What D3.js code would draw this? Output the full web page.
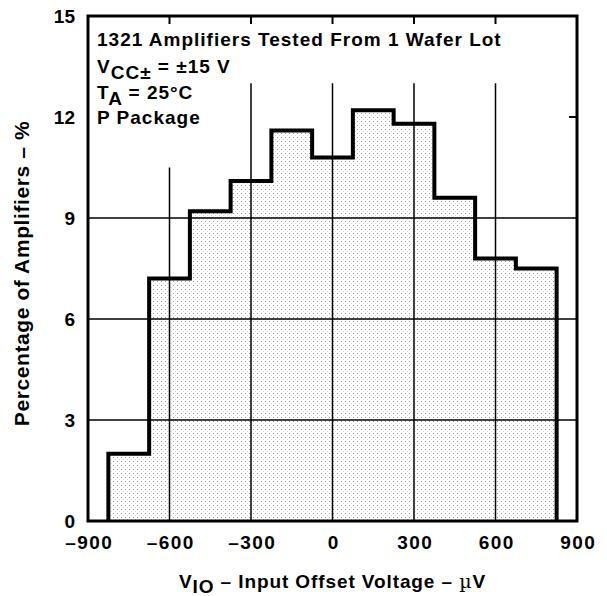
<!DOCTYPE html>
<html>
<head>
<meta charset="utf-8">
<script src="https://cdn.jsdelivr.net/npm/d3@7"></script>
<style>
  html, body { margin: 0; padding: 0; background: #fff; }
  svg { display: block; }
  text { font-family: "Liberation Sans", Arial, Helvetica, sans-serif; font-weight: bold; fill: #000; }
</style>
</head>
<body>
<svg id="chart" width="607" height="596"></svg>
<script>
// ---- data ----
const binEdges = [-825, -675, -525, -375, -225, -75, 75, 225, 375, 525, 675, 825];
const percentages = [2.0, 7.2, 9.2, 10.1, 11.6, 10.8, 12.2, 11.8, 9.6, 7.8, 7.5];
const xTicks = [-900, -600, -300, 0, 300, 600, 900];
const yTicks = [0, 3, 6, 9, 12, 15];
const hGrid = [3, 6, 9];
const vGrid = [
  { x: -600, top: 10.5 },
  { x: -300, top: 13 },
  { x: 0, top: 13 },
  { x: 300, top: 13 },
  { x: 600, top: 13 }
];
const topTicks = [-600, -300, 0, 300, 600];
const rightTicks = [12];

// ---- layout ----
const svg = d3.select("#chart");
const L = 88, R = 577, T = 16, B = 521;
const x = d3.scaleLinear().domain([-900, 900]).range([L, R]);
const y = d3.scaleLinear().domain([0, 15]).range([B, T]);

// dotted fill pattern
const defs = svg.append("defs");
const pat = defs.append("pattern")
  .attr("id", "dots").attr("patternUnits", "userSpaceOnUse")
  .attr("width", 4).attr("height", 4);
pat.append("rect").attr("width", 4).attr("height", 4).attr("fill", "#fff");
pat.append("rect").attr("x", 1).attr("y", 1).attr("width", 1).attr("height", 1).attr("fill", "#9a9a9a");
pat.append("rect").attr("x", 3).attr("y", 3).attr("width", 1).attr("height", 1).attr("fill", "#dcdcdc");

// histogram step points
const pts = [[binEdges[0], 0]];
percentages.forEach((v, i) => {
  pts.push([binEdges[i], v]);
  pts.push([binEdges[i + 1], v]);
});
pts.push([binEdges[binEdges.length - 1], 0]);

const line = d3.line().x(d => x(d[0])).y(d => y(d[1]));

// fill
svg.append("path")
  .attr("d", line(pts) + "Z")
  .attr("fill", "url(#dots)")
  .attr("stroke", "none");

// grid lines
svg.append("g").selectAll("line").data(hGrid).join("line")
  .attr("x1", L).attr("x2", R)
  .attr("y1", d => y(d)).attr("y2", d => y(d))
  .attr("stroke", "#000").attr("stroke-width", 1.5);

svg.append("g").selectAll("line").data(vGrid).join("line")
  .attr("x1", d => x(d.x)).attr("x2", d => x(d.x))
  .attr("y1", B).attr("y2", d => y(d.top))
  .attr("stroke", "#000").attr("stroke-width", 1.5);

// inner ticks
svg.append("g").selectAll("line").data(topTicks).join("line")
  .attr("x1", d => x(d)).attr("x2", d => x(d))
  .attr("y1", T).attr("y2", T + 8)
  .attr("stroke", "#000").attr("stroke-width", 2);
svg.append("g").selectAll("line").data(rightTicks).join("line")
  .attr("x1", R).attr("x2", R - 8)
  .attr("y1", d => y(d)).attr("y2", d => y(d))
  .attr("stroke", "#000").attr("stroke-width", 2);

// histogram outline
svg.append("path")
  .attr("d", line(pts))
  .attr("fill", "none")
  .attr("stroke", "#000")
  .attr("stroke-width", 4)
  .attr("stroke-linejoin", "miter");

// frame
svg.append("rect")
  .attr("x", L).attr("y", T).attr("width", R - L).attr("height", B - T)
  .attr("fill", "none").attr("stroke", "#000").attr("stroke-width", 3);

// axes labels via d3 axes (lines hidden)
const fmt = d => (d < 0 ? "\u2013" + Math.abs(d) : String(d));
const xAxis = svg.append("g").attr("transform", `translate(0,${B})`)
  .call(d3.axisBottom(x).tickValues(xTicks).tickFormat(fmt).tickSize(0).tickPadding(15));
const yAxis = svg.append("g").attr("transform", `translate(${L},0)`)
  .call(d3.axisLeft(y).tickValues(yTicks).tickFormat(fmt).tickSize(0).tickPadding(13));
[xAxis, yAxis].forEach(a => {
  a.select(".domain").remove();
  a.selectAll("text")
    .attr("font-family", '"Liberation Sans", Arial, sans-serif')
    .attr("font-weight", "bold").attr("font-size", 19).attr("fill", "#000");
});
xAxis.selectAll("text").attr("letter-spacing", 1.4).attr("dx", 0.7);

// annotation
const ann = svg.append("g").attr("font-size", 19).attr("letter-spacing", 1);
ann.append("text").attr("x", 97).attr("y", 46).text("1321 Amplifiers Tested From 1 Wafer Lot");
const t2 = ann.append("text").attr("x", 97).attr("y", 73);
t2.append("tspan").text("V");
t2.append("tspan").attr("dy", 6).text("CC\u00B1");
t2.append("tspan").attr("dy", -6).text(" = \u00B115 V");
const t3 = ann.append("text").attr("x", 97).attr("y", 99);
t3.append("tspan").text("T");
t3.append("tspan").attr("dy", 6).text("A");
t3.append("tspan").attr("dy", -6).text(" = 25\u00B0C");
ann.append("text").attr("x", 97).attr("y", 124).text("P Package");

// axis titles
const xt = svg.append("text").attr("x", (L + R) / 2).attr("y", 588)
  .attr("text-anchor", "middle").attr("font-size", 19).attr("letter-spacing", 0.9);
xt.append("tspan").text("V");
xt.append("tspan").attr("dy", 5).text("IO");
xt.append("tspan").attr("dy", -5).text(" \u2013 Input Offset Voltage \u2013 ");
xt.append("tspan").attr("font-family", '"DejaVu Serif", "Liberation Serif", serif').attr("font-weight", "normal").text("\u00B5");
xt.append("tspan").text("V");

svg.append("text")
  .attr("transform", `translate(29,${(T + B) / 2 + 5}) rotate(-90)`)
  .attr("text-anchor", "middle").attr("font-size", 21).attr("letter-spacing", 0.6)
  .text("Percentage of Amplifiers \u2013 %");
</script>
</body>
</html>
